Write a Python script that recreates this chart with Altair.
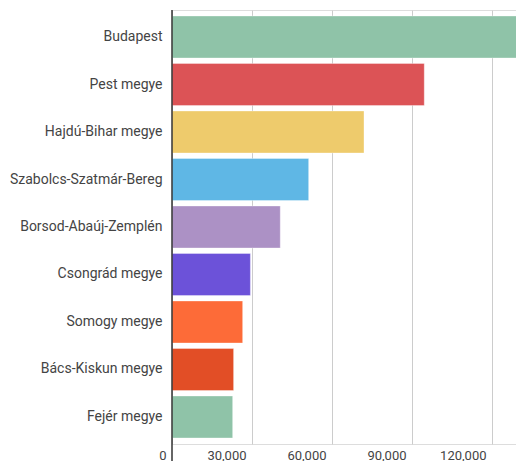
import altair as alt
import pandas as pd

counties = ["Budapest", "Pest megye", "Hajdú-Bihar megye", "Szabolcs-Szatmár-Bereg",
            "Borsod-Abaúj-Zemplén", "Csongrád megye", "Somogy megye",
            "Bács-Kiskun megye", "Fejér megye"]
values = [135000, 94600, 72000, 51250, 40600, 29400, 26500, 23100, 22750]
colors = ["#8fc3a8", "#dc5356", "#eecb6c", "#5fb7e5", "#ac91c5",
          "#6c52d9", "#fd6b38", "#e24e26", "#8fc3a8"]
ticks = [0, 30000, 60000, 90000, 120000]

df = pd.DataFrame({"county": counties, "value": values})

FONT = "Roboto"

x = alt.X("value:Q",
          scale=alt.Scale(domain=[0, 129000], nice=False, zero=True),
          axis=alt.Axis(values=ticks, title=None, grid=True,
                        labelExpr="datum.value == 0 ? '0' : floor(datum.value / 1000) + ',000'",
                        gridColor="#cccccc", gridWidth=1, domain=False, ticks=False,
                        labelAlign="right", labelOffset=-6, labelPadding=5,
                        labelFont=FONT, labelFontSize=13, labelColor="#444444"))
y = alt.Y("county:N", sort=counties,
          scale=alt.Scale(paddingInner=0.115, paddingOuter=0.126),
          axis=alt.Axis(title=None, domain=False, ticks=False, labelPadding=10,
                        labelLimit=170,
                        labelFont=FONT, labelFontSize=14, labelColor="#444444"))

bars = alt.Chart(df).mark_bar(clip=True, stroke="white", strokeOpacity=0.35, strokeWidth=1).encode(
    x=x, y=y,
    color=alt.Color("county:N", scale=alt.Scale(domain=counties, range=colors), legend=None),
)

base = alt.Chart(pd.DataFrame({"v": [0]})).mark_rule(color="#333333", strokeWidth=1.5).encode(
    x=alt.X("v:Q"), y=alt.value(0), y2=alt.value(451)
)

chart = alt.layer(bars, base).properties(
    width=344, height=434,
    autosize=alt.AutoSizeParams(type="none"),
    padding={"left": 172, "top": 10, "right": 0, "bottom": 17},
).configure_view(stroke=None).configure(background="white")

chart.save("out.html", embed_options={"renderer": "svg", "actions": False})
